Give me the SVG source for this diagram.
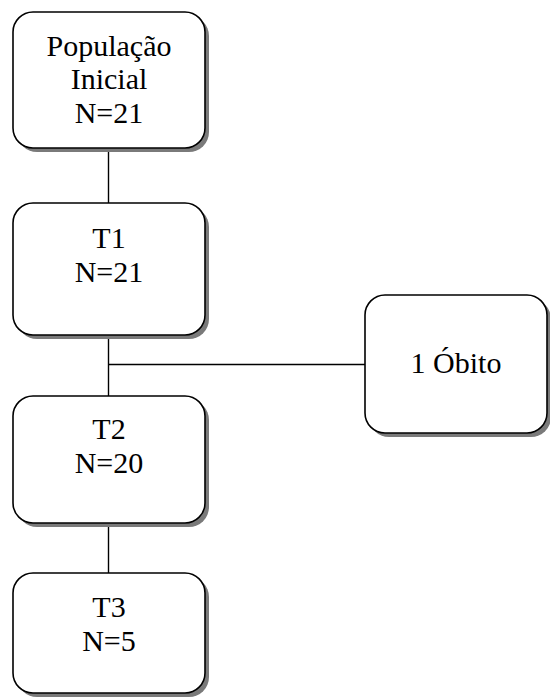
<svg xmlns="http://www.w3.org/2000/svg" width="550" height="697" viewBox="0 0 550 697">
<defs>
<style>
.shadow{fill:#7a7a7a;stroke:none}
.box{fill:#ffffff;stroke:#000000;stroke-width:1.6}
.lbl{font-family:"Liberation Serif","Times New Roman",serif;font-size:30px;fill:#000000;text-anchor:middle}
.conn{stroke:#000000;stroke-width:1.4;fill:none}
</style>
</defs>
<rect width="550" height="697" fill="#ffffff"/>
<g id="connectors">
<line class="conn" x1="108.5" y1="148" x2="108.5" y2="203"/>
<line class="conn" x1="108.5" y1="335" x2="108.5" y2="396"/>
<line class="conn" x1="108.5" y1="364.5" x2="365" y2="364.5"/>
<line class="conn" x1="108.5" y1="523" x2="108.5" y2="573"/>
</g>
<g id="node-populacao">
<rect class="shadow" x="17" y="16" width="192" height="136" rx="20"/>
<rect class="box" x="13" y="12" width="192" height="136" rx="20"/>
<text class="lbl" x="109" y="56">População</text>
<text class="lbl" x="109" y="89">Inicial</text>
<text class="lbl" x="109" y="123">N=21</text>
</g>
<g id="node-t1">
<rect class="shadow" x="17" y="207" width="192" height="132" rx="20"/>
<rect class="box" x="13" y="203" width="192" height="132" rx="20"/>
<text class="lbl" x="109" y="248">T1</text>
<text class="lbl" x="109" y="282">N=21</text>
</g>
<g id="node-obito">
<rect class="shadow" x="369" y="299" width="182" height="138" rx="20"/>
<rect class="box" x="365" y="295" width="182" height="138" rx="20"/>
<text class="lbl" x="456" y="373">1 Óbito</text>
</g>
<g id="node-t2">
<rect class="shadow" x="17" y="400" width="192" height="127" rx="20"/>
<rect class="box" x="13" y="396" width="192" height="127" rx="20"/>
<text class="lbl" x="109" y="439">T2</text>
<text class="lbl" x="109" y="473">N=20</text>
</g>
<g id="node-t3">
<rect class="shadow" x="17" y="577" width="192" height="120" rx="20"/>
<rect class="box" x="13" y="573" width="192" height="120" rx="20"/>
<text class="lbl" x="109" y="617">T3</text>
<text class="lbl" x="109" y="651">N=5</text>
</g>
</svg>
